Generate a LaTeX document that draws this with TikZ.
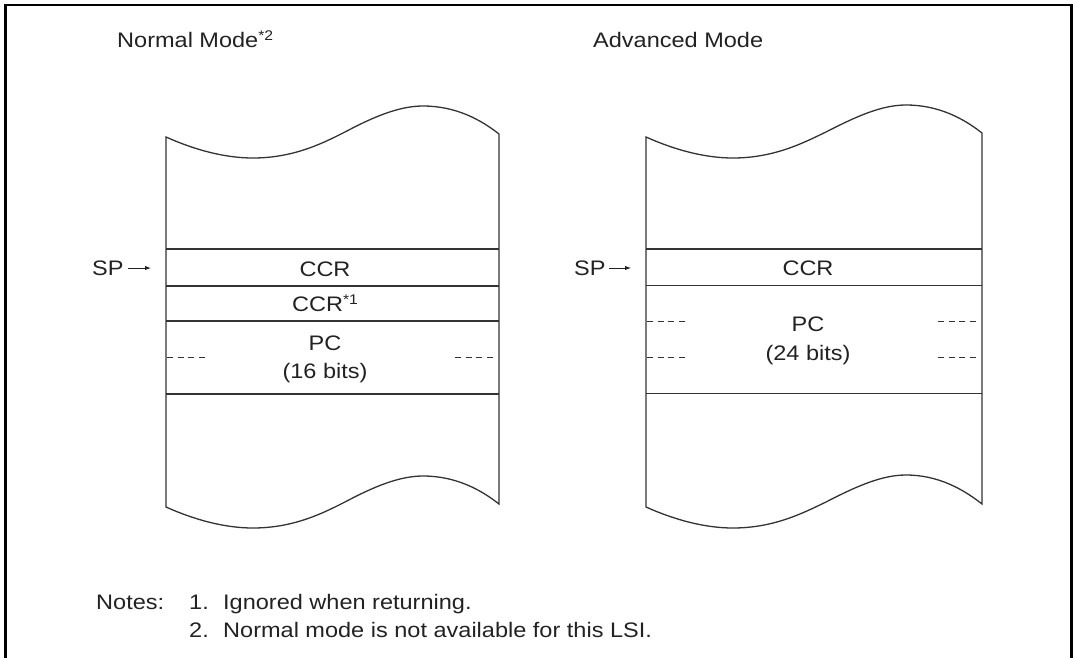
\documentclass[tikz,border=0pt]{standalone}
\usepackage{fontspec}
\setmainfont{Liberation Sans}[FakeStretch=1.12]
\usetikzlibrary{arrows.meta}
\definecolor{ink}{HTML}{222222}
\definecolor{edge}{HTML}{333333}
\newcommand{\supmark}[1]{\raisebox{6.5pt}{\fontsize{14}{14}\selectfont #1}}
\tikzset{
  txt/.style={inner sep=0pt, text=ink, font=\fontsize{21}{25}\selectfont},
  boxline/.style={draw=edge, line width=1.3pt},
  cellline/.style={draw=edge, line width=1.2pt},
  dashline/.style={draw=edge, line width=0.8pt, dash pattern=on 6pt off 4.5pt},
  sparrow/.style={draw=ink, line width=1pt, -{Latex[length=6pt,width=4.5pt]}},
  frame/.style={draw=black, line width=2.6pt}
}
\begin{document}
\begin{tikzpicture}[x=1pt,y=-1pt]
\useasboundingbox (0,0) rectangle (1074,657);
% outer frame (open at bottom)
\draw[frame] (5.5,660) -- (5.5,5) -- (1071.5,5) -- (1071.5,660);

% titles
\node[txt, anchor=base west] (tnormal) at (117,47) {Normal Mode\supmark{*2}};
\node[txt, anchor=base west] (tadv) at (593,47) {Advanced Mode};

% ---------- left box ----------
\draw[boxline]
  (166,137) .. controls (195,150) and (225,158) .. (253,158)
  .. controls (295,158) and (325,142) .. (345,132)
  .. controls (375,116) and (400,106) .. (423,106)
  .. controls (455,106) and (480,119) .. (499,134)
  -- (499,504)
  .. controls (480,489) and (455,476) .. (423,476)
  .. controls (400,476) and (375,486) .. (345,502)
  .. controls (325,512) and (295,528) .. (253,528)
  .. controls (225,528) and (195,520) .. (166,507)
  -- cycle;
\draw[cellline] (166,249) -- (499,249);
\draw[cellline] (166,286) -- (499,286);
\draw[cellline] (166,321) -- (499,321);
\draw[cellline] (166,394) -- (499,394);
\draw[dashline] (167,357.5) -- (205,357.5);
\draw[dashline] (455,357.5) -- (494,357.5);

\node[txt, anchor=base] (lccr) at (325,276) {CCR};
\node[txt, anchor=base] (lccr1) at (325,311) {CCR\supmark{*1}};
\node[txt, anchor=base] (lpc) at (325,350) {PC};
\node[txt, anchor=base] (lbits) at (325,378) {(16 bits)};

\node[txt, anchor=base west] (lsp) at (92,275) {SP};
\coordinate (lspstart) at (128,268);
\coordinate (lspend) at (151,268);
\draw[sparrow] (lspstart) -- (lspend);

% ---------- right box ----------
\draw[boxline]
  (646,137) .. controls (675,150) and (705,158) .. (733,158)
  .. controls (775,158) and (805,142) .. (826,132)
  .. controls (857,116) and (882,105) .. (906,105)
  .. controls (938,105) and (963,118) .. (982,133)
  -- (982,504)
  .. controls (963,489) and (938,475) .. (906,475)
  .. controls (882,475) and (857,486) .. (826,502)
  .. controls (805,512) and (775,528) .. (733,528)
  .. controls (705,528) and (675,520) .. (646,507)
  -- cycle;
\draw[cellline] (646,249) -- (982,249);
\draw[cellline] (646,285.5) -- (982,285.5);
\draw[cellline] (646,393.5) -- (982,393.5);
\draw[dashline] (647,321) -- (685,321);
\draw[dashline] (938,321) -- (976,321);
\draw[dashline] (647,357) -- (685,357);
\draw[dashline] (938,357) -- (976,357);

\node[txt, anchor=base] (rccr) at (808,275) {CCR};
\node[txt, anchor=base] (rpc) at (808,331) {PC};
\node[txt, anchor=base] (rbits) at (808,360.5) {(24 bits)};

\node[txt, anchor=base west] (rsp) at (574,275) {SP};
\coordinate (rspstart) at (609,268);
\coordinate (rspend) at (631,268);
\draw[sparrow] (rspstart) -- (rspend);

% ---------- notes ----------
\node[txt, anchor=base west] (notes) at (96,609) {Notes:};
\node[txt, anchor=base west] (n1num) at (189,609) {1.};
\node[txt, anchor=base west] (n1) at (223,609) {Ignored when returning.};
\node[txt, anchor=base west] (n2num) at (189,637) {2.};
\node[txt, anchor=base west] (n2) at (223,637) {Normal mode is not available for this LSI.};
\end{tikzpicture}
\end{document}
